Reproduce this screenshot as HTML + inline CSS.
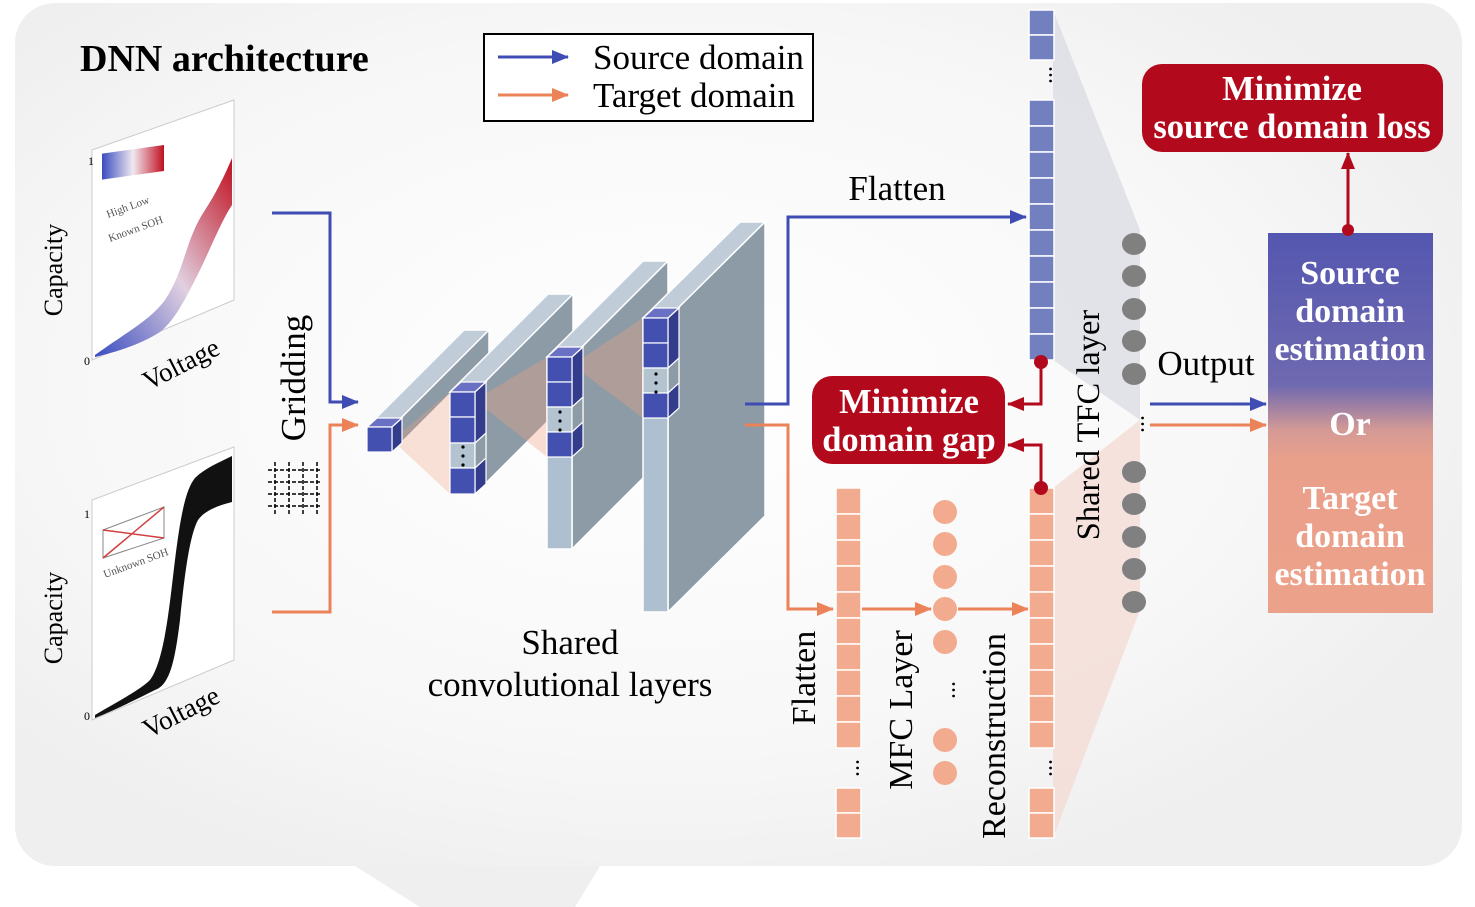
<!DOCTYPE html>
<html><head><meta charset="utf-8"><style>
html,body{margin:0;padding:0;background:#fff}
svg{display:block;font-family:"Liberation Serif",serif}
</style></head><body>
<svg width="1475" height="907" viewBox="0 0 1475 907" xmlns="http://www.w3.org/2000/svg">
<defs>
<radialGradient id="bg" cx="0.45" cy="0.45" r="0.6"><stop offset="0" stop-color="#ffffff"/><stop offset="0.7" stop-color="#f7f7f7"/><stop offset="1" stop-color="#efefef"/></radialGradient>
<linearGradient id="rb" x1="0" y1="0" x2="0" y2="1"><stop offset="0" stop-color="#5457b0"/><stop offset="0.4" stop-color="#6f69b0"/><stop offset="0.52" stop-color="#d59a95"/><stop offset="0.6" stop-color="#e9a08a"/><stop offset="1" stop-color="#eca18a"/></linearGradient>
<linearGradient id="c1" x1="0" y1="1" x2="1" y2="0"><stop offset="0" stop-color="#3a4cc0"/><stop offset="0.5" stop-color="#e0d0e0"/><stop offset="1" stop-color="#c01020"/></linearGradient>
<linearGradient id="cb" x1="0" y1="0" x2="1" y2="0"><stop offset="0" stop-color="#3a4cc0"/><stop offset="0.5" stop-color="#f0e8f0"/><stop offset="1" stop-color="#c01020"/></linearGradient>
<marker id="ab" markerWidth="18" markerHeight="14" refX="16" refY="7" orient="auto" markerUnits="userSpaceOnUse"><path d="M0,0 L17,7 L0,14 z" fill="#3f4cb4"/></marker>
<marker id="ao" markerWidth="18" markerHeight="14" refX="16" refY="7" orient="auto" markerUnits="userSpaceOnUse"><path d="M0,0 L17,7 L0,14 z" fill="#ec8258"/></marker>
<marker id="ar" markerWidth="18" markerHeight="14" refX="16" refY="7" orient="auto" markerUnits="userSpaceOnUse"><path d="M0,0 L17,7 L0,14 z" fill="#b20a1c"/></marker>
</defs>
<rect x="0" y="0" width="1475" height="907" fill="#fff"/>
<polygon points="355,866 600,866 575,907 420,907" fill="#efefef"/>
<rect x="15" y="3" width="1447" height="863" rx="40" fill="url(#bg)"/>

<text x="80" y="71" font-size="38" font-weight="bold" fill="#000">DNN architecture</text>
<rect x="484" y="34" width="329" height="87" fill="#fff" stroke="#000" stroke-width="2"/>
<line x1="498" y1="57" x2="568" y2="57" stroke="#3f4cb4" stroke-width="3" marker-end="url(#ab)"/>
<line x1="498" y1="95" x2="568" y2="95" stroke="#ec8258" stroke-width="3" marker-end="url(#ao)"/>
<text x="593" y="69" font-size="35">Source domain</text>
<text x="593" y="107" font-size="35">Target domain</text>

<!-- plot 1 -->
<polygon points="92,150 234,100 234,300 92,360" fill="#fff" stroke="#ccc" stroke-width="1"/>
<path d="M95,355 C130,330 150,320 165,300 C185,270 185,240 205,210 C215,195 225,175 232,158 L232,205 C222,220 212,245 200,270 C185,300 175,320 160,332 C140,345 115,352 95,357 z" fill="url(#c1)"/>
<rect x="102" y="152" width="62" height="26" fill="url(#cb)" transform="skewY(-8) translate(0,16)"/>
<text x="108" y="218" font-size="11" fill="#555" transform="rotate(-20 108 218)">High   Low</text>
<text x="110" y="242" font-size="11" fill="#555" transform="rotate(-20 110 242)">Known SOH</text>
<text x="88" y="165" font-size="12">1</text>
<text x="84" y="365" font-size="12">0</text>
<text transform="translate(62,270) rotate(-90)" font-size="26" text-anchor="middle">Capacity</text>
<text transform="translate(185,372) rotate(-27)" font-size="27" text-anchor="middle">Voltage</text>

<!-- plot 2 -->
<polygon points="92,500 234,447 234,660 92,720" fill="#fff" stroke="#ccc" stroke-width="1"/>
<path d="M95,715 C120,700 140,690 150,680 C165,660 170,600 175,560 C180,520 185,490 195,478 C205,468 220,462 232,456 L232,502 C220,505 205,510 198,520 C190,535 185,570 180,620 C175,660 170,685 155,690 C135,700 115,710 95,718 z" fill="#111"/>
<polygon points="103,530 164,507 164,538 103,558" fill="#fff" stroke="#888" stroke-width="1"/>
<line x1="103" y1="530" x2="164" y2="538" stroke="#d04040" stroke-width="1.5"/>
<line x1="103" y1="558" x2="164" y2="507" stroke="#d04040" stroke-width="1.5"/>
<text x="105" y="578" font-size="11" fill="#555" transform="rotate(-20 105 578)">Unknown SOH</text>
<text x="84" y="518" font-size="12">1</text>
<text x="84" y="720" font-size="12">0</text>
<text transform="translate(62,618) rotate(-90)" font-size="26" text-anchor="middle">Capacity</text>
<text transform="translate(185,720) rotate(-27)" font-size="27" text-anchor="middle">Voltage</text>

<text transform="translate(305,378) rotate(-90)" font-size="35" text-anchor="middle">Gridding</text>
<g stroke="#000" stroke-width="1.5" stroke-dasharray="4,2">
<line x1="268" y1="470" x2="322" y2="470"/><line x1="268" y1="482" x2="322" y2="482"/><line x1="268" y1="494" x2="322" y2="494"/><line x1="268" y1="506" x2="322" y2="506"/>
<line x1="275" y1="462" x2="275" y2="515"/><line x1="289" y1="462" x2="289" y2="515"/><line x1="303" y1="462" x2="303" y2="515"/><line x1="317" y1="462" x2="317" y2="515"/>
</g>

<polyline points="272,213 330,213 330,402 358,402" fill="none" stroke="#3f4cb4" stroke-width="3" marker-end="url(#ab)"/>
<polyline points="272,612 330,612 330,425 358,425" fill="none" stroke="#ec8258" stroke-width="3" marker-end="url(#ao)"/>

<g stroke="#fff" stroke-width="1.5">
<polygon points="367,427 392,427 489,330 464,330" fill="#c0ccd8"/>
<polygon points="392,427 489,330 489,355 392,452" fill="#8d9ba6"/>
<polygon points="392,440 450,392 450,494" fill="#f0a080" fill-opacity="0.3" stroke="none"/>
<polygon points="450,392 475,392 573,294 548,294" fill="#c0ccd8"/>
<polygon points="475,392 573,294 573,396 475,494" fill="#8d9ba6"/>
<polygon points="475,400 547,357 547,457" fill="#f0a080" fill-opacity="0.35" stroke="none"/>
<polygon points="547,357 572,357 668,261 643,261" fill="#c0ccd8"/>
<polygon points="572,357 668,261 668,453 572,549" fill="#8d9ba6"/>
<rect x="547" y="357" width="25" height="192" fill="#aebfcf"/>
<polygon points="572,365 643,318 643,418" fill="#f0a080" fill-opacity="0.35" stroke="none"/>
<polygon points="643,318 668,318 765,222 740,222" fill="#c0ccd8"/>
<polygon points="668,318 765,222 765,516 668,612" fill="#8d9ba6"/>
<rect x="643" y="318" width="25" height="294" fill="#aebfcf"/>
</g>
<g stroke="#fff" stroke-width="1.2">
<polygon points="367,427 392,427 402,418 377,418" fill="#6a70c4"/>
<polygon points="392,427 402,418 402,443 392,452" fill="#343c8c"/>
<rect x="367" y="427" width="25" height="25" fill="#4450b0"/>
<polygon points="450,392 475,392 486,382 461,382" fill="#6a70c4"/>
<polygon points="475,392 486,382 486,484 475,494" fill="#343c8c"/>
<rect x="450" y="392" width="25" height="25" fill="#4450b0"/>
<rect x="450" y="417" width="25" height="26" fill="#4450b0"/>
<rect x="450" y="443" width="25" height="25" fill="#b4c3d0"/>
<rect x="450" y="468" width="25" height="26" fill="#4450b0"/>
<polygon points="475,443 486,433 486,458 475,468" fill="#8d9ba6"/>
<polygon points="547,357 572,357 583,347 558,347" fill="#6a70c4"/>
<polygon points="572,357 583,347 583,447 572,457" fill="#343c8c"/>
<rect x="547" y="357" width="25" height="25" fill="#4450b0"/>
<rect x="547" y="382" width="25" height="25" fill="#4450b0"/>
<rect x="547" y="407" width="25" height="25" fill="#b4c3d0"/>
<rect x="547" y="432" width="25" height="25" fill="#4450b0"/>
<polygon points="572,407 583,397 583,422 572,432" fill="#8d9ba6"/>
<polygon points="643,318 668,318 679,308 654,308" fill="#6a70c4"/>
<polygon points="668,318 679,308 679,408 668,418" fill="#343c8c"/>
<rect x="643" y="318" width="25" height="25" fill="#4450b0"/>
<rect x="643" y="343" width="25" height="25" fill="#4450b0"/>
<rect x="643" y="368" width="25" height="25" fill="#b4c3d0"/>
<rect x="643" y="393" width="25" height="25" fill="#4450b0"/>
<polygon points="668,368 679,358 679,383 668,393" fill="#8d9ba6"/>
</g>
<g fill="#000">
<circle cx="463" cy="447" r="1.6"/><circle cx="463" cy="456" r="1.6"/><circle cx="463" cy="465" r="1.6"/>
<circle cx="560" cy="412" r="1.6"/><circle cx="560" cy="421" r="1.6"/><circle cx="560" cy="430" r="1.6"/>
<circle cx="656" cy="374" r="1.6"/><circle cx="656" cy="383" r="1.6"/><circle cx="656" cy="392" r="1.6"/>
</g>
<text x="570" y="654" font-size="35" text-anchor="middle">Shared</text>
<text x="570" y="696" font-size="35" text-anchor="middle">convolutional layers</text>

<polygon points="1053,10 1140,230 1140,420 1053,360" fill="#d8dae2" fill-opacity="0.7"/>
<polygon points="1053,488 1140,420 1140,610 1053,838" fill="#f3d8d0" fill-opacity="0.7"/>

<polyline points="745,404 788,404 788,217 1026,217" fill="none" stroke="#3f4cb4" stroke-width="3" marker-end="url(#ab)"/>
<polyline points="745,425 788,425 788,609 833,609" fill="none" stroke="#ec8258" stroke-width="3" marker-end="url(#ao)"/>
<line x1="862" y1="609" x2="931" y2="609" stroke="#ec8258" stroke-width="3" marker-end="url(#ao)"/>
<line x1="958" y1="609" x2="1028" y2="609" stroke="#ec8258" stroke-width="3" marker-end="url(#ao)"/>
<text x="897" y="200" font-size="35" text-anchor="middle">Flatten</text>

<g fill="#7380c0" stroke="#fff" stroke-width="1.5">
<rect x="1029" y="10" width="25" height="25"/><rect x="1029" y="35" width="25" height="25"/>
<rect x="1029" y="100" width="25" height="26"/><rect x="1029" y="126" width="25" height="26"/><rect x="1029" y="152" width="25" height="26"/><rect x="1029" y="178" width="25" height="26"/><rect x="1029" y="204" width="25" height="26"/><rect x="1029" y="230" width="25" height="26"/><rect x="1029" y="256" width="25" height="26"/><rect x="1029" y="282" width="25" height="26"/><rect x="1029" y="308" width="25" height="26"/><rect x="1029" y="334" width="25" height="26"/>
</g>
<text x="1045" y="82" font-size="24" text-anchor="middle" transform="rotate(-90 1045 75)">...</text>

<g fill="#f2ab8e" stroke="#fff" stroke-width="1.5">
<rect x="836" y="488" width="25" height="26"/><rect x="836" y="514" width="25" height="26"/><rect x="836" y="540" width="25" height="26"/><rect x="836" y="566" width="25" height="26"/><rect x="836" y="592" width="25" height="26"/><rect x="836" y="618" width="25" height="26"/><rect x="836" y="644" width="25" height="26"/><rect x="836" y="670" width="25" height="26"/><rect x="836" y="696" width="25" height="26"/><rect x="836" y="722" width="25" height="26"/>
<rect x="836" y="788" width="25" height="25"/><rect x="836" y="813" width="25" height="25"/>
<rect x="1029" y="488" width="25" height="26"/><rect x="1029" y="514" width="25" height="26"/><rect x="1029" y="540" width="25" height="26"/><rect x="1029" y="566" width="25" height="26"/><rect x="1029" y="592" width="25" height="26"/><rect x="1029" y="618" width="25" height="26"/><rect x="1029" y="644" width="25" height="26"/><rect x="1029" y="670" width="25" height="26"/><rect x="1029" y="696" width="25" height="26"/><rect x="1029" y="722" width="25" height="26"/>
<rect x="1029" y="788" width="25" height="25"/><rect x="1029" y="813" width="25" height="25"/>
</g>
<text x="852" y="775" font-size="24" text-anchor="middle" transform="rotate(-90 852 768)">...</text>
<text x="1045" y="775" font-size="24" text-anchor="middle" transform="rotate(-90 1045 768)">...</text>
<g fill="#f2ab8e">
<circle cx="945" cy="512" r="12"/><circle cx="945" cy="544" r="12"/><circle cx="945" cy="577" r="12"/><circle cx="945" cy="609" r="12"/><circle cx="945" cy="642" r="12"/><circle cx="945" cy="740" r="12"/><circle cx="945" cy="773" r="12"/>
</g>
<text x="948" y="697" font-size="24" text-anchor="middle" transform="rotate(-90 948 690)">...</text>
<text transform="translate(815,678) rotate(-90)" font-size="34" text-anchor="middle">Flatten</text>
<text transform="translate(912,710) rotate(-90)" font-size="34" text-anchor="middle">MFC Layer</text>
<text transform="translate(1005,736) rotate(-90)" font-size="34" text-anchor="middle">Reconstruction</text>
<text transform="translate(1099,425) rotate(-90)" font-size="32.5" text-anchor="middle">Shared TFC layer</text>

<g fill="#808080">
<ellipse cx="1134" cy="244" rx="12" ry="11"/><ellipse cx="1134" cy="276" rx="12" ry="11"/><ellipse cx="1134" cy="309" rx="12" ry="11"/><ellipse cx="1134" cy="341" rx="12" ry="11"/><ellipse cx="1134" cy="374" rx="12" ry="11"/>
<ellipse cx="1134" cy="472" rx="12" ry="11"/><ellipse cx="1134" cy="504" rx="12" ry="11"/><ellipse cx="1134" cy="537" rx="12" ry="11"/><ellipse cx="1134" cy="569" rx="12" ry="11"/><ellipse cx="1134" cy="602" rx="12" ry="11"/>
</g>
<text x="1137" y="431" font-size="24" text-anchor="middle" transform="rotate(-90 1137 424)">...</text>

<line x1="1150" y1="404" x2="1266" y2="404" stroke="#3f4cb4" stroke-width="3" marker-end="url(#ab)"/>
<line x1="1150" y1="425" x2="1266" y2="425" stroke="#ec8258" stroke-width="3" marker-end="url(#ao)"/>
<text x="1206" y="375" font-size="35" text-anchor="middle">Output</text>

<rect x="1268" y="233" width="165" height="380" fill="url(#rb)"/>
<g font-size="34" font-weight="bold" fill="#fff" text-anchor="middle">
<text x="1350" y="284">Source</text><text x="1350" y="322">domain</text><text x="1350" y="360">estimation</text>
<text x="1350" y="435">Or</text>
<text x="1350" y="509">Target</text><text x="1350" y="547">domain</text><text x="1350" y="585">estimation</text>
</g>

<rect x="1142" y="64" width="301" height="88" rx="20" fill="#b20a1c"/>
<g font-size="34.5" font-weight="bold" fill="#fff" text-anchor="middle">
<text x="1292" y="100">Minimize</text><text x="1292" y="138">source domain loss</text>
</g>
<line x1="1348" y1="230" x2="1348" y2="153" stroke="#b20a1c" stroke-width="3" marker-end="url(#ar)"/>
<circle cx="1348" cy="230" r="6" fill="#b20a1c"/>

<rect x="812" y="376" width="193" height="88" rx="20" fill="#b20a1c"/>
<g font-size="34.5" font-weight="bold" fill="#fff" text-anchor="middle">
<text x="909" y="413">Minimize</text><text x="909" y="451">domain gap</text>
</g>
<polyline points="1041,362 1041,404 1008,404" fill="none" stroke="#b20a1c" stroke-width="3" marker-end="url(#ar)"/>
<polyline points="1041,488 1041,445 1008,445" fill="none" stroke="#b20a1c" stroke-width="3" marker-end="url(#ar)"/>
<circle cx="1041" cy="362" r="7" fill="#b20a1c"/>
<circle cx="1041" cy="488" r="7" fill="#b20a1c"/>
</svg>
</body></html>
